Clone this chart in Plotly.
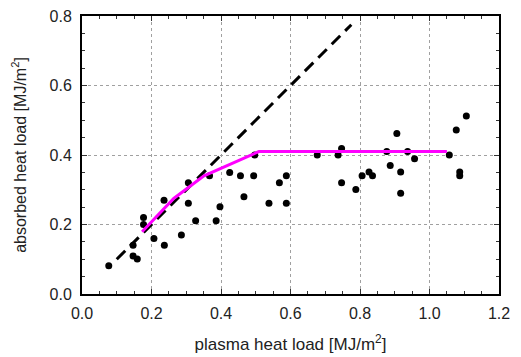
import plotly.graph_objects as go

# measured data points
x_pts = [0.077, 0.147, 0.147, 0.159, 0.177, 0.177, 0.207, 0.237, 0.236, 0.286,
         0.306, 0.306, 0.327, 0.367, 0.386, 0.397, 0.425, 0.456, 0.466, 0.494,
         0.497, 0.538, 0.568, 0.588, 0.588, 0.677, 0.737, 0.747, 0.747, 0.788,
         0.806, 0.826, 0.836, 0.877, 0.887, 0.906, 0.917, 0.917, 0.937, 0.957,
         1.057, 1.077, 1.087, 1.087, 1.106]
y_pts = [0.081, 0.140, 0.109, 0.101, 0.220, 0.200, 0.160, 0.140, 0.270, 0.170,
         0.261, 0.320, 0.211, 0.340, 0.211, 0.251, 0.350, 0.340, 0.280, 0.340,
         0.400, 0.261, 0.320, 0.340, 0.261, 0.400, 0.400, 0.419, 0.320, 0.301,
         0.340, 0.351, 0.340, 0.410, 0.370, 0.462, 0.351, 0.290, 0.410, 0.389,
         0.400, 0.472, 0.351, 0.340, 0.512]

# model curve (magenta)
x_fit = [0.173, 0.264, 0.351, 0.509, 1.05]
y_fit = [0.179, 0.275, 0.340, 0.410, 0.410]

# y = x reference line (dashed)
x_ref = [0.10, 0.775]
y_ref = [0.10, 0.775]

x_ticks = [0.0, 0.2, 0.4, 0.6, 0.8, 1.0, 1.2]
y_ticks = [0.0, 0.2, 0.4, 0.6, 0.8]

fig = go.Figure()
fig.add_trace(go.Scatter(x=x_ref, y=y_ref, mode="lines",
                         line=dict(color="black", width=3, dash="12px,7px"),
                         showlegend=False))
fig.add_trace(go.Scatter(x=x_pts, y=y_pts, mode="markers",
                         marker=dict(color="black", size=7),
                         showlegend=False))
fig.add_trace(go.Scatter(x=x_fit, y=y_fit, mode="lines",
                         line=dict(color="#FF00FF", width=3),
                         showlegend=False))

fam = "Liberation Sans, Arial, sans-serif"
tick_font = dict(family=fam, size=16, color="#222222")

axis_common = dict(
    showline=True, linecolor="black", linewidth=2, mirror="ticks",
    ticks="inside", ticklen=5, tickwidth=1, tickcolor="#333333",
    showgrid=True, gridcolor="#a0a0a0", griddash="dot", gridwidth=1,
    zeroline=False, tickfont=tick_font, automargin=False,
    minor=dict(ticks="inside", ticklen=3, tickcolor="#333333", dtick=0.05, showgrid=False),
)

fig.update_xaxes(range=[0, 1.2], tickvals=x_ticks,
                 ticktext=[f"{v:.1f}" for v in x_ticks], ticklabelstandoff=4,
                 title=dict(text="plasma heat load [MJ/m<sup>2</sup>]",
                            font=dict(family=fam, size=17, color="#222222"), standoff=17),
                 **axis_common)
fig.update_yaxes(range=[0, 0.8], tickvals=y_ticks,
                 ticktext=[f"{v:.1f}" for v in y_ticks], ticklabelstandoff=5,
                 title=dict(text="absorbed heat load [MJ/m<sup>2</sup>]",
                            font=dict(family=fam, size=16, color="#222222"), standoff=19),
                 **axis_common)

fig.update_layout(width=521, height=357,
                  margin=dict(l=82, r=22, t=16, b=63),
                  paper_bgcolor="white", plot_bgcolor="white",
                  font=tick_font)

fig.write_html("out.html")
